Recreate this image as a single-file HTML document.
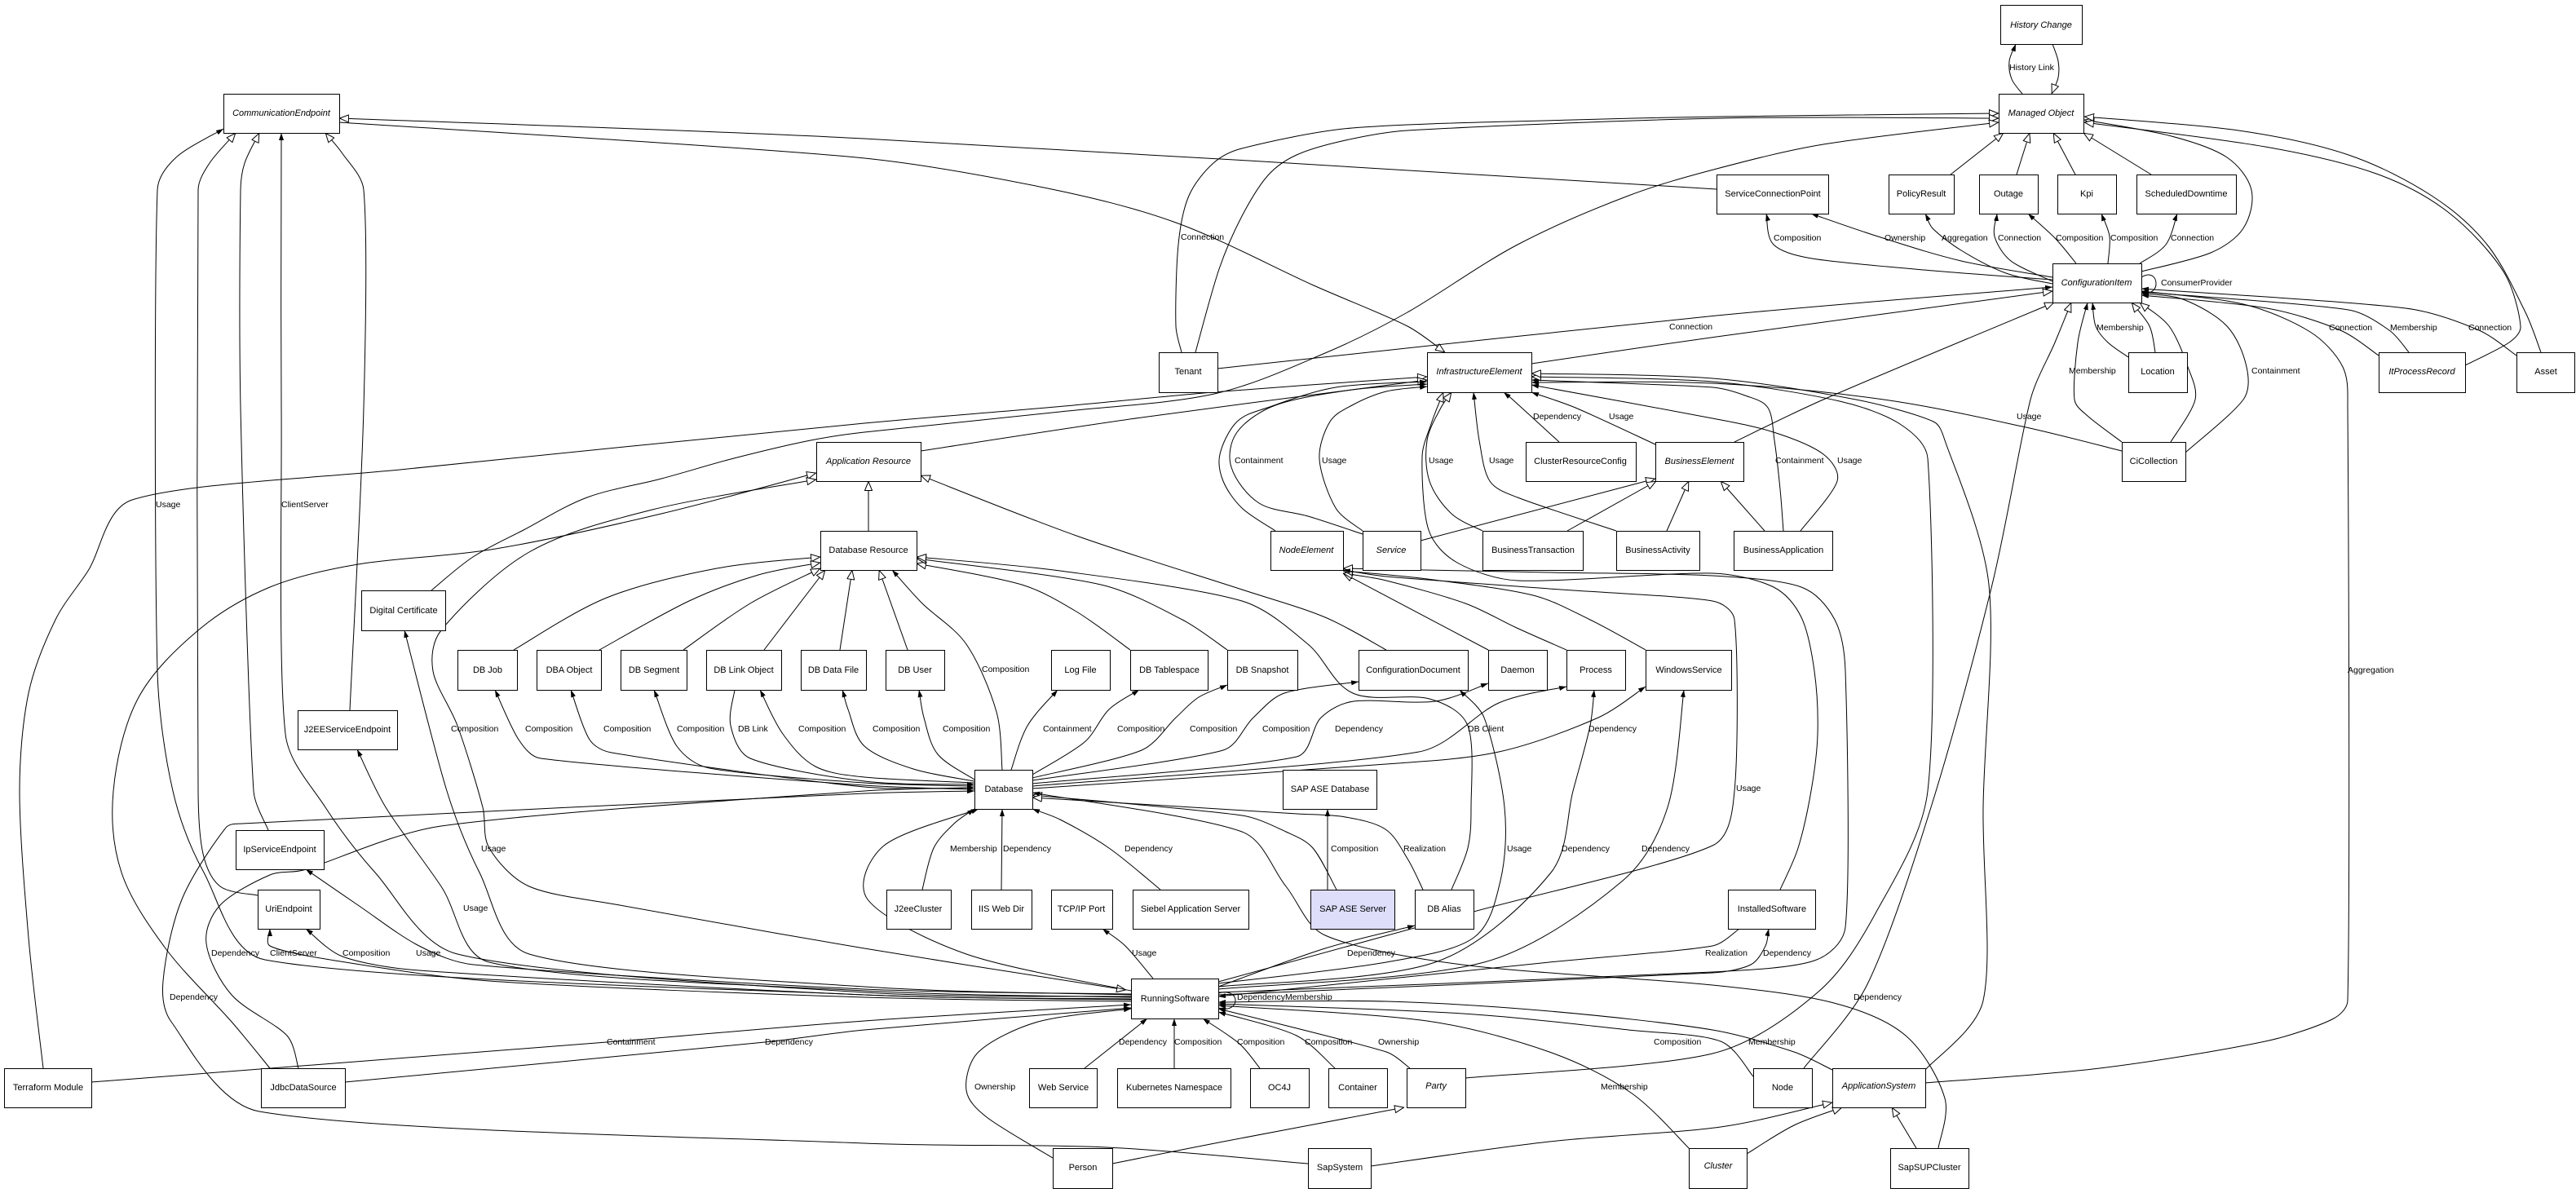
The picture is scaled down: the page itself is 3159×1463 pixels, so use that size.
<!DOCTYPE html>
<html><head><meta charset="utf-8"><style>
html,body{margin:0;padding:0;background:#fff;}
svg{display:block;}
.n{font-family:"Liberation Sans",Arial,sans-serif;font-size:11px;fill:#000;}
.i{font-style:italic;}
.l{font-family:"Liberation Sans",Arial,sans-serif;font-size:10.5px;fill:#000;}
.e path{fill:none;stroke:#000;stroke-width:1;stroke-linejoin:round;}
</style></head><body>
<svg width="3159" height="1463" viewBox="0 0 3159 1463" xmlns="http://www.w3.org/2000/svg">
<defs>
<marker id="h" viewBox="0 0 12 10" refX="12" refY="5" markerWidth="12" markerHeight="10" orient="auto" markerUnits="userSpaceOnUse"><path d="M0.5,0.5 L11.5,5 L0.5,9.5 Z" fill="#fff" stroke="#000" stroke-width="1"/></marker>
<marker id="hs" viewBox="0 0 12 10" refX="12" refY="5" markerWidth="12" markerHeight="10" orient="auto-start-reverse" markerUnits="userSpaceOnUse"><path d="M0.5,0.5 L11.5,5 L0.5,9.5 Z" fill="#fff" stroke="#000" stroke-width="1"/></marker>
<marker id="f" viewBox="0 0 9 6" refX="9" refY="3" markerWidth="9" markerHeight="6" orient="auto" markerUnits="userSpaceOnUse"><path d="M0,0 L9,3 L0,6 Z" fill="#000"/></marker>
</defs>
<rect width="3159" height="1463" fill="#fff"/>
<g class="e">
<path d="M2480,115 L2467,97 L2464,75 L2472,54" marker-end="url(#f)"/>
<path d="M2517,54 L2524,75 L2524,95 L2516,115" marker-end="url(#h)"/>
<path d="M2392,214 L2457,163" marker-end="url(#h)"/>
<path d="M2473,214 L2489,163" marker-end="url(#h)"/>
<path d="M2545,214 L2518,163" marker-end="url(#h)"/>
<path d="M2638,214 L2555,163" marker-end="url(#h)"/>
<path d="M2626,333 L2711,310 L2751,280 L2761,233 L2731,193 L2663,167 L2556,147" marker-end="url(#h)"/>
<path d="M3023,448 L3077,420 L3091,400 L3070,333 L3002,260 L2914,213 L2778,180 L2556,150" marker-end="url(#h)"/>
<path d="M3116,432 L3097,383 L3050,300 L2982,240 L2880,190 L2745,160 L2556,143" marker-end="url(#h)"/>
<path d="M1449,432 L1442,400 L1445,300 L1458,240 L1488,200 L1523,182 L1658,157 L1929,147 L2110,143 L2451,139" marker-end="url(#h)"/>
<path d="M1466,432 L1495,330 L1523,265 L1555,215 L1590,190 L1650,172 L1726,160 L2110,145 L2451,145" marker-end="url(#h)"/>
<path d="M2105,232 L1060,170 L416,145" marker-end="url(#h)"/>
<path d="M416,150 L1050,193 L1280,230 L1442,273 L1611,350 L1726,400 L1772,432" marker-end="url(#h)"/>
<path d="M529,724 L580,683 L642,650 L720,610 L811,587 L900,562 L994,540 L1060,530 L1300,505 L1489,483 L1625,433 L1726,383 L1861,300 L1997,240 L2105,207 L2236,177 L2451,150" marker-end="url(#h)"/>
<path d="M53,1310 L35,1150 L24,970 L35,850 L68,760 L108,700 L162,613 L500,575 L1060,519 L1283,500 L1500,480 L1750,462" marker-end="url(#h)"/>
<path d="M1129,553 L1400,512 L1750,466" marker-end="url(#h)"/>
<path d="M1564,651 L1523,623 L1500,590 L1496,557 L1517,517 L1554,500 L1638,475 L1750,468" marker-end="url(#f)"/>
<path d="M1671,655 L1604,633 L1544,617 L1510,573 L1517,530 L1564,497 L1658,478 L1750,471" marker-end="url(#f)"/>
<path d="M1671,651 L1638,623 L1618,563 L1631,517 L1658,497 L1700,480 L1750,474" marker-end="url(#f)"/>
<path d="M2183,1091 L2205,1040 L2221,970 L2229,900 L2225,823 L2209,757 L2175,720 L2100,703 L1861,712 L1787,690 L1752,650 L1744,560 L1755,520 L1770,481" marker-end="url(#h)"/>
<path d="M1818,651 L1780,630 L1753,590 L1750,540 L1767,500 L1780,481" marker-end="url(#h)"/>
<path d="M1982,651 L1861,610 L1827,590 L1814,540 L1807,481" marker-end="url(#f)"/>
<path d="M1912,542 L1855,490 L1844,481" marker-end="url(#f)"/>
<path d="M2030,545 L1932,500 L1878,481" marker-end="url(#f)"/>
<path d="M1878,446 L2105,413 L2517,357" marker-end="url(#h)"/>
<path d="M1493,452 L2105,387 L2517,352" marker-end="url(#f)"/>
<path d="M2127,542 L2236,490 L2519,371" marker-end="url(#h)"/>
<path d="M2208,651 L2253,590 L2236,557 L2175,530 L2100,513 L1878,472" marker-end="url(#f)"/>
<path d="M2187,651 L2183,600 L2176,540 L2168,500 L2140,485 L2100,475 L1878,466" marker-end="url(#f)"/>
<path d="M1797,1322 L2100,1292 L2229,1217 L2300,1120 L2364,970 L2364,562 L2330,520 L2256,492 L2100,468 L1878,462" marker-end="url(#h)"/>
<path d="M2361,1312 L2432,1227 L2432,990 L2439,717 L2385,540 L2371,517 L2276,490 L2100,464 L1878,458" marker-end="url(#h)"/>
<path d="M2602,553 L2480,523 L2310,490 L2100,470 L1878,469" marker-end="url(#f)"/>
<path d="M2212,1310 L2290,1207 L2368,990 L2443,717 L2490,490 L2520,420 L2540,371" marker-end="url(#h)"/>
<path d="M2602,542 L2560,510 L2544,490 L2548,420 L2560,371" marker-end="url(#f)"/>
<path d="M2610,438 L2585,420 L2570,400 L2566,371" marker-end="url(#f)"/>
<path d="M2643,432 L2636,400 L2614,371" marker-end="url(#h)"/>
<path d="M2662,542 L2692,490 L2683,450 L2660,400 L2624,371" marker-end="url(#h)"/>
<path d="M2680,555 L2751,490 L2755,450 L2731,400 L2677,367 L2626,360" marker-end="url(#f)"/>
<path d="M2361,1328 L2575,1310 L2778,1277 L2860,1250 L2879,1227 L2879,500 L2873,450 L2833,407 L2751,373 L2626,357" marker-end="url(#f)"/>
<path d="M2917,436 L2870,405 L2780,378 L2626,362" marker-end="url(#f)"/>
<path d="M2954,432 L2930,405 L2880,380 L2626,358" marker-end="url(#f)"/>
<path d="M3086,436 L3040,405 L2950,378 L2626,354" marker-end="url(#f)"/>
<path d="M2626,340 C2648,326 2652,366 2626,358" marker-end="url(#f)"/>
<path d="M2517,343 L2371,332 L2222,317 L2175,300 L2166,262" marker-end="url(#f)"/>
<path d="M2517,340 L2405,320 L2303,290 L2221,262" marker-end="url(#f)"/>
<path d="M2517,348 L2460,335 L2405,307 L2370,280 L2361,262" marker-end="url(#f)"/>
<path d="M2517,345 L2466,320 L2446,290 L2449,262" marker-end="url(#f)"/>
<path d="M2546,323 L2521,293 L2487,262" marker-end="url(#f)"/>
<path d="M2585,323 L2587,290 L2577,262" marker-end="url(#f)"/>
<path d="M2624,323 L2656,300 L2670,262" marker-end="url(#f)"/>
<path d="M1065,651 L1065,590" marker-end="url(#h)"/>
<path d="M1700,797 L1625,757 L1523,723 L1320,657 L1129,583" marker-end="url(#h)"/>
<path d="M331,1310 L284,1253 L203,1163 L149,1070 L139,970 L169,857 L243,773 L331,720 L439,692 L608,673 L811,630 L1001,580" marker-end="url(#h)"/>
<path d="M1001,588 L800,625 L649,677 L541,773 L531,823 L561,890 L592,990 L600,1040 L649,1087 L760,1110 L1060,1163 L1381,1214" marker-start="url(#hs)" marker-end="url(#h)"/>
<path d="M630,797 L744,733 L879,697 L1006,683" marker-end="url(#h)"/>
<path d="M735,797 L845,737 L930,705 L1006,690" marker-end="url(#h)"/>
<path d="M838,797 L920,740 L1006,697" marker-end="url(#h)"/>
<path d="M937,797 L1012,699" marker-end="url(#h)"/>
<path d="M1030,797 L1045,699" marker-end="url(#h)"/>
<path d="M1113,797 L1078,699" marker-end="url(#h)"/>
<path d="M1229,944 L1222,873 L1185,790 L1131,740 L1094,699" marker-end="url(#f)"/>
<path d="M1386,797 L1320,750 L1253,717 L1124,691" marker-end="url(#h)"/>
<path d="M1505,797 L1450,760 L1350,717 L1124,685" marker-end="url(#h)"/>
<path d="M1780,1091 L1800,1040 L1804,990 L1800,890 L1753,857 L1659,850 L1604,790 L1523,737 L1300,700 L1124,683" marker-end="url(#h)"/>
<path d="M1195,968 L1060,963 L663,930 L636,907 L607,846" marker-end="url(#f)"/>
<path d="M1195,966 L1060,965 L750,923 L723,907 L700,846" marker-end="url(#f)"/>
<path d="M1195,964 L1060,960 L870,942 L830,915 L802,846" marker-end="url(#f)"/>
<path d="M901,846 L896,890 L920,930 L1060,958 L1195,962" marker-end="url(#f)"/>
<path d="M1195,960 L1060,953 L1000,940 L960,900 L932,846" marker-end="url(#f)"/>
<path d="M1195,958 L1120,943 L1060,915 L1040,870 L1033,846" marker-end="url(#f)"/>
<path d="M1195,956 L1150,925 L1133,880 L1127,846" marker-end="url(#f)"/>
<path d="M1240,944 L1260,890 L1297,846" marker-end="url(#f)"/>
<path d="M1266,950 L1330,910 L1360,870 L1397,846" marker-end="url(#f)"/>
<path d="M1266,954 L1400,920 L1442,880 L1470,855 L1505,840" marker-end="url(#f)"/>
<path d="M1266,957 L1500,920 L1537,880 L1575,850 L1666,836" marker-end="url(#f)"/>
<path d="M1266,961 L1590,928 L1620,880 L1660,860 L1760,860 L1825,838" marker-end="url(#f)"/>
<path d="M1266,964 L1740,922 L1838,862 L1921,842" marker-end="url(#f)"/>
<path d="M1266,967 L1700,937 L1838,922 L1960,880 L2018,842" marker-end="url(#f)"/>
<path d="M1494,1206 L1700,1180 L1807,1150 L1840,1080 L1845,990 L1820,880 L1790,846" marker-end="url(#f)"/>
<path d="M1494,1210 L1760,1180 L1902,1070 L1929,970 L1950,890 L1955,846" marker-end="url(#f)"/>
<path d="M1494,1213 L1820,1180 L1990,1080 L2045,990 L2065,846" marker-end="url(#f)"/>
<path d="M1825,797 L1647,703" marker-end="url(#h)"/>
<path d="M1921,797 L1860,770 L1797,740 L1700,712 L1647,703" marker-end="url(#h)"/>
<path d="M2018,797 L1950,760 L1880,730 L1750,710 L1647,700" marker-end="url(#h)"/>
<path d="M1494,1217 L2100,1192 L2225,1178 L2263,1137 L2263,823 L2250,760 L2209,720 L2100,706 L1900,702 L1647,697" marker-end="url(#h)"/>
<path d="M1494,1204 L1800,1120 L2100,1037 L2127,970 L2127,760 L2100,737 L1900,722 L1700,707 L1647,699" marker-end="url(#f)"/>
<path d="M1742,663 L2030,587" marker-end="url(#h)"/>
<path d="M1922,651 L2031,590" marker-end="url(#h)"/>
<path d="M2044,651 L2071,590" marker-end="url(#h)"/>
<path d="M2164,651 L2110,590" marker-end="url(#h)"/>
<path d="M1131,1091 L1145,1040 L1170,1010 L1195,992" marker-end="url(#f)"/>
<path d="M1228,1091 L1229,992" marker-end="url(#f)"/>
<path d="M1423,1091 L1360,1040 L1300,1005 L1266,992" marker-end="url(#f)"/>
<path d="M1639,1091 L1610,1040 L1577,1020 L1523,1000 L1266,975" marker-end="url(#h)"/>
<path d="M1628,1091 L1628,992" marker-end="url(#f)"/>
<path d="M1745,1091 L1726,1053 L1699,1017 L1650,1002 L1591,998 L1266,978" marker-end="url(#h)"/>
<path d="M1387,1215 L1185,1170 L1064,1103 L1084,1037 L1200,992" marker-end="url(#f)"/>
<path d="M2377,1408 L2385,1347 L2337,1270 L2249,1230 L2100,1208 L1793,1183 L1625,1147 L1577,1087 L1523,1020 L1266,972" marker-end="url(#f)"/>
<path d="M1604,1427 L1357,1407 L1060,1402 L318,1363 L210,1253 L200,1203 L223,1103 L277,1015 L297,1010 L1060,973 L1195,970" marker-end="url(#f)"/>
<path d="M366,1310 L352,1270 L284,1220 L253,1157 L270,1110 L331,1073 L372,1067 L541,1013 L1060,970 L1195,966" marker-end="url(#f)"/>
<path d="M1414,1200 L1380,1160 L1352,1139" marker-end="url(#f)"/>
<path d="M1494,1210 L1625,1163 L1735,1135" marker-end="url(#f)"/>
<path d="M1330,1310 L1407,1249" marker-end="url(#f)"/>
<path d="M1440,1310 L1440,1249" marker-end="url(#f)"/>
<path d="M1545,1310 L1520,1280 L1475,1249" marker-end="url(#f)"/>
<path d="M1637,1310 L1590,1270 L1494,1241" marker-end="url(#f)"/>
<path d="M1729,1310 L1700,1290 L1494,1237" marker-end="url(#f)"/>
<path d="M1291,1420 L1210,1370 L1185,1337 L1200,1290 L1273,1253 L1387,1237" marker-end="url(#f)"/>
<path d="M1364,1427 L1500,1400 L1722,1358" marker-end="url(#h)"/>
<path d="M2073,1410 L2000,1340 L1900,1290 L1750,1252 L1494,1233" marker-end="url(#f)"/>
<path d="M1681,1430 L1900,1400 L2110,1382 L2247,1352" marker-end="url(#h)"/>
<path d="M2142,1415 L2200,1380 L2259,1358" marker-end="url(#h)"/>
<path d="M2350,1408 L2320,1358" marker-end="url(#h)"/>
<path d="M2150,1320 L2110,1277 L1997,1263 L1794,1243 L1494,1231" marker-end="url(#f)"/>
<path d="M2247,1312 L2200,1290 L2100,1263 L1900,1240 L1700,1228 L1494,1229" marker-end="url(#f)"/>
<path d="M2133,1139 L2100,1160 L1900,1180 L1494,1222" marker-end="url(#f)"/>
<path d="M1494,1220 L2100,1193 L2147,1183 L2165,1160 L2169,1139" marker-end="url(#f)"/>
<path d="M1494,1218 C1522,1210 1522,1244 1494,1236" marker-end="url(#f)"/>
<path d="M316,1098 L270,1087 L249,1047 L243,970 L243,233 L257,200 L289,163" marker-end="url(#h)"/>
<path d="M329,1018 L311,970 L295,500 L295,233 L300,200 L318,163" marker-end="url(#h)"/>
<path d="M1387,1222 L1060,1217 L561,1170 L460,1070 L399,990 L350,900 L345,500 L345,163" marker-end="url(#f)"/>
<path d="M429,871 L446,500 L446,233 L419,187 L399,163" marker-end="url(#h)"/>
<path d="M1387,1225 L1060,1220 L325,1177 L250,1070 L212,970 L193,823 L193,233 L216,193 L274,158" marker-end="url(#f)"/>
<path d="M1387,1219 L1060,1213 L581,1183 L514,1160 L439,1110 L375,1066" marker-end="url(#f)"/>
<path d="M1387,1228 L1060,1223 L600,1203 L405,1177 L331,1160 L331,1139" marker-end="url(#f)"/>
<path d="M1387,1226 L1060,1220 L514,1190 L420,1173 L375,1139" marker-end="url(#f)"/>
<path d="M1387,1223 L1060,1215 L600,1180 L541,1087 L473,990 L438,919" marker-end="url(#f)"/>
<path d="M1387,1220 L1060,1210 L649,1170 L588,1070 L548,970 L496,773" marker-end="url(#f)"/>
<path d="M112,1327 L744,1278 L1060,1252 L1387,1232" marker-end="url(#f)"/>
<path d="M423,1327 L938,1278 L1060,1263 L1387,1236" marker-end="url(#f)"/>
</g>
<g>
<text class="l" x="2464" y="83" dominant-baseline="central">History Link</text>
<text class="l" x="1448" y="291" dominant-baseline="central">Connection</text>
<text class="l" x="2175" y="292" dominant-baseline="central">Composition</text>
<text class="l" x="2311" y="292" dominant-baseline="central">Ownership</text>
<text class="l" x="2381" y="292" dominant-baseline="central">Aggregation</text>
<text class="l" x="2450" y="292" dominant-baseline="central">Connection</text>
<text class="l" x="2521" y="292" dominant-baseline="central">Composition</text>
<text class="l" x="2588" y="292" dominant-baseline="central">Composition</text>
<text class="l" x="2662" y="292" dominant-baseline="central">Connection</text>
<text class="l" x="2650" y="347" dominant-baseline="central">ConsumerProvider</text>
<text class="l" x="2047" y="401" dominant-baseline="central">Connection</text>
<text class="l" x="2571" y="402" dominant-baseline="central">Membership</text>
<text class="l" x="2856" y="402" dominant-baseline="central">Connection</text>
<text class="l" x="2931" y="402" dominant-baseline="central">Membership</text>
<text class="l" x="3027" y="402" dominant-baseline="central">Connection</text>
<text class="l" x="2537" y="455" dominant-baseline="central">Membership</text>
<text class="l" x="2761" y="455" dominant-baseline="central">Containment</text>
<text class="l" x="2473" y="511" dominant-baseline="central">Usage</text>
<text class="l" x="1880" y="511" dominant-baseline="central">Dependency</text>
<text class="l" x="1973" y="511" dominant-baseline="central">Usage</text>
<text class="l" x="1514" y="565" dominant-baseline="central">Containment</text>
<text class="l" x="1621" y="565" dominant-baseline="central">Usage</text>
<text class="l" x="1752" y="565" dominant-baseline="central">Usage</text>
<text class="l" x="1826" y="565" dominant-baseline="central">Usage</text>
<text class="l" x="2177" y="565" dominant-baseline="central">Containment</text>
<text class="l" x="2253" y="565" dominant-baseline="central">Usage</text>
<text class="l" x="191" y="619" dominant-baseline="central">Usage</text>
<text class="l" x="345" y="619" dominant-baseline="central">ClientServer</text>
<text class="l" x="1204" y="821" dominant-baseline="central">Composition</text>
<text class="l" x="2879" y="822" dominant-baseline="central">Aggregation</text>
<text class="l" x="553" y="894" dominant-baseline="central">Composition</text>
<text class="l" x="644" y="894" dominant-baseline="central">Composition</text>
<text class="l" x="740" y="894" dominant-baseline="central">Composition</text>
<text class="l" x="830" y="894" dominant-baseline="central">Composition</text>
<text class="l" x="905" y="894" dominant-baseline="central">DB Link</text>
<text class="l" x="979" y="894" dominant-baseline="central">Composition</text>
<text class="l" x="1070" y="894" dominant-baseline="central">Composition</text>
<text class="l" x="1156" y="894" dominant-baseline="central">Composition</text>
<text class="l" x="1279" y="894" dominant-baseline="central">Containment</text>
<text class="l" x="1370" y="894" dominant-baseline="central">Composition</text>
<text class="l" x="1459" y="894" dominant-baseline="central">Composition</text>
<text class="l" x="1548" y="894" dominant-baseline="central">Composition</text>
<text class="l" x="1637" y="894" dominant-baseline="central">Dependency</text>
<text class="l" x="1800" y="894" dominant-baseline="central">DB Client</text>
<text class="l" x="1948" y="894" dominant-baseline="central">Dependency</text>
<text class="l" x="2129" y="967" dominant-baseline="central">Usage</text>
<text class="l" x="590" y="1041" dominant-baseline="central">Usage</text>
<text class="l" x="1165" y="1041" dominant-baseline="central">Membership</text>
<text class="l" x="1230" y="1041" dominant-baseline="central">Dependency</text>
<text class="l" x="1379" y="1041" dominant-baseline="central">Dependency</text>
<text class="l" x="1632" y="1041" dominant-baseline="central">Composition</text>
<text class="l" x="1721" y="1041" dominant-baseline="central">Realization</text>
<text class="l" x="1848" y="1041" dominant-baseline="central">Usage</text>
<text class="l" x="1915" y="1041" dominant-baseline="central">Dependency</text>
<text class="l" x="2013" y="1041" dominant-baseline="central">Dependency</text>
<text class="l" x="568" y="1114" dominant-baseline="central">Usage</text>
<text class="l" x="259" y="1169" dominant-baseline="central">Dependency</text>
<text class="l" x="331" y="1169" dominant-baseline="central">ClientServer</text>
<text class="l" x="420" y="1169" dominant-baseline="central">Composition</text>
<text class="l" x="510" y="1169" dominant-baseline="central">Usage</text>
<text class="l" x="1388" y="1169" dominant-baseline="central">Usage</text>
<text class="l" x="1652" y="1169" dominant-baseline="central">Dependency</text>
<text class="l" x="2091" y="1169" dominant-baseline="central">Realization</text>
<text class="l" x="2162" y="1169" dominant-baseline="central">Dependency</text>
<text class="l" x="208" y="1223" dominant-baseline="central">Dependency</text>
<text class="l" x="1517" y="1223" dominant-baseline="central">DependencyMembership</text>
<text class="l" x="2273" y="1223" dominant-baseline="central">Dependency</text>
<text class="l" x="744" y="1278" dominant-baseline="central">Containment</text>
<text class="l" x="938" y="1278" dominant-baseline="central">Dependency</text>
<text class="l" x="1372" y="1278" dominant-baseline="central">Dependency</text>
<text class="l" x="1440" y="1278" dominant-baseline="central">Composition</text>
<text class="l" x="1517" y="1278" dominant-baseline="central">Composition</text>
<text class="l" x="1600" y="1278" dominant-baseline="central">Composition</text>
<text class="l" x="1690" y="1278" dominant-baseline="central">Ownership</text>
<text class="l" x="2028" y="1278" dominant-baseline="central">Composition</text>
<text class="l" x="2144" y="1278" dominant-baseline="central">Membership</text>
<text class="l" x="1195" y="1333" dominant-baseline="central">Ownership</text>
<text class="l" x="1963" y="1333" dominant-baseline="central">Membership</text>
</g>
<g id="nodes">
<rect x="2454" y="7" width="100" height="48" fill="#666"/><rect x="2453.5" y="6.5" width="100" height="48" fill="#fff" stroke="#000"/><text class="n i" x="2503" y="31" text-anchor="middle" dominant-baseline="central">History Change</text>
<rect x="2452" y="116" width="104" height="48" fill="#666"/><rect x="2451.5" y="115.5" width="104" height="48" fill="#fff" stroke="#000"/><text class="n i" x="2503" y="139" text-anchor="middle" dominant-baseline="central">Managed Object</text>
<rect x="275" y="116" width="142" height="48" fill="#666"/><rect x="274.5" y="115.5" width="142" height="48" fill="#fff" stroke="#000"/><text class="n i" x="345" y="139" text-anchor="middle" dominant-baseline="central">CommunicationEndpoint</text>
<rect x="2106" y="215" width="137" height="48" fill="#666"/><rect x="2105.5" y="214.5" width="137" height="48" fill="#fff" stroke="#000"/><text class="n" x="2174" y="238" text-anchor="middle" dominant-baseline="central">ServiceConnectionPoint</text>
<rect x="2317" y="215" width="80" height="48" fill="#666"/><rect x="2316.5" y="214.5" width="80" height="48" fill="#fff" stroke="#000"/><text class="n" x="2356" y="238" text-anchor="middle" dominant-baseline="central">PolicyResult</text>
<rect x="2428" y="215" width="72" height="48" fill="#666"/><rect x="2427.5" y="214.5" width="72" height="48" fill="#fff" stroke="#000"/><text class="n" x="2463" y="238" text-anchor="middle" dominant-baseline="central">Outage</text>
<rect x="2524" y="215" width="72" height="48" fill="#666"/><rect x="2523.5" y="214.5" width="72" height="48" fill="#fff" stroke="#000"/><text class="n" x="2559" y="238" text-anchor="middle" dominant-baseline="central">Kpi</text>
<rect x="2621" y="215" width="122" height="48" fill="#666"/><rect x="2620.5" y="214.5" width="122" height="48" fill="#fff" stroke="#000"/><text class="n" x="2681" y="238" text-anchor="middle" dominant-baseline="central">ScheduledDowntime</text>
<rect x="2518" y="324" width="109" height="48" fill="#666"/><rect x="2517.5" y="323.5" width="109" height="48" fill="#fff" stroke="#000"/><text class="n i" x="2571" y="347" text-anchor="middle" dominant-baseline="central">ConfigurationItem</text>
<rect x="1422" y="433" width="72" height="49" fill="#666"/><rect x="1421.5" y="432.5" width="72" height="49" fill="#fff" stroke="#000"/><text class="n" x="1457" y="456" text-anchor="middle" dominant-baseline="central">Tenant</text>
<rect x="1751" y="433" width="128" height="49" fill="#666"/><rect x="1750.5" y="432.5" width="128" height="49" fill="#fff" stroke="#000"/><text class="n i" x="1814" y="456" text-anchor="middle" dominant-baseline="central">InfrastructureElement</text>
<rect x="2611" y="433" width="72" height="49" fill="#666"/><rect x="2610.5" y="432.5" width="72" height="49" fill="#fff" stroke="#000"/><text class="n" x="2646" y="456" text-anchor="middle" dominant-baseline="central">Location</text>
<rect x="2918" y="433" width="106" height="49" fill="#666"/><rect x="2917.5" y="432.5" width="106" height="49" fill="#fff" stroke="#000"/><text class="n i" x="2970" y="456" text-anchor="middle" dominant-baseline="central">ItProcessRecord</text>
<rect x="3087" y="433" width="71" height="49" fill="#666"/><rect x="3086.5" y="432.5" width="71" height="49" fill="#fff" stroke="#000"/><text class="n" x="3122" y="456" text-anchor="middle" dominant-baseline="central">Asset</text>
<rect x="1002" y="543" width="128" height="48" fill="#666"/><rect x="1001.5" y="542.5" width="128" height="48" fill="#fff" stroke="#000"/><text class="n i" x="1065" y="566" text-anchor="middle" dominant-baseline="central">Application Resource</text>
<rect x="1872" y="543" width="135" height="48" fill="#666"/><rect x="1871.5" y="542.5" width="135" height="48" fill="#fff" stroke="#000"/><text class="n" x="1938" y="566" text-anchor="middle" dominant-baseline="central">ClusterResourceConfig</text>
<rect x="2031" y="543" width="108" height="48" fill="#666"/><rect x="2030.5" y="542.5" width="108" height="48" fill="#fff" stroke="#000"/><text class="n i" x="2084" y="566" text-anchor="middle" dominant-baseline="central">BusinessElement</text>
<rect x="2603" y="543" width="78" height="48" fill="#666"/><rect x="2602.5" y="542.5" width="78" height="48" fill="#fff" stroke="#000"/><text class="n" x="2641" y="566" text-anchor="middle" dominant-baseline="central">CiCollection</text>
<rect x="1007" y="652" width="118" height="48" fill="#666"/><rect x="1006.5" y="651.5" width="118" height="48" fill="#fff" stroke="#000"/><text class="n" x="1065" y="675" text-anchor="middle" dominant-baseline="central">Database Resource</text>
<rect x="1559" y="652" width="89" height="48" fill="#666"/><rect x="1558.5" y="651.5" width="89" height="48" fill="#fff" stroke="#000"/><text class="n i" x="1602" y="675" text-anchor="middle" dominant-baseline="central">NodeElement</text>
<rect x="1672" y="652" width="71" height="48" fill="#666"/><rect x="1671.5" y="651.5" width="71" height="48" fill="#fff" stroke="#000"/><text class="n i" x="1706" y="675" text-anchor="middle" dominant-baseline="central">Service</text>
<rect x="1819" y="652" width="123" height="48" fill="#666"/><rect x="1818.5" y="651.5" width="123" height="48" fill="#fff" stroke="#000"/><text class="n" x="1880" y="675" text-anchor="middle" dominant-baseline="central">BusinessTransaction</text>
<rect x="1983" y="652" width="102" height="48" fill="#666"/><rect x="1982.5" y="651.5" width="102" height="48" fill="#fff" stroke="#000"/><text class="n" x="2033" y="675" text-anchor="middle" dominant-baseline="central">BusinessActivity</text>
<rect x="2127" y="652" width="121" height="48" fill="#666"/><rect x="2126.5" y="651.5" width="121" height="48" fill="#fff" stroke="#000"/><text class="n" x="2187" y="675" text-anchor="middle" dominant-baseline="central">BusinessApplication</text>
<rect x="444" y="725" width="103" height="49" fill="#666"/><rect x="443.5" y="724.5" width="103" height="49" fill="#fff" stroke="#000"/><text class="n" x="495" y="749" text-anchor="middle" dominant-baseline="central">Digital Certificate</text>
<rect x="562" y="798" width="73" height="49" fill="#666"/><rect x="561.5" y="797.5" width="73" height="49" fill="#fff" stroke="#000"/><text class="n" x="598" y="822" text-anchor="middle" dominant-baseline="central">DB Job</text>
<rect x="659" y="798" width="79" height="49" fill="#666"/><rect x="658.5" y="797.5" width="79" height="49" fill="#fff" stroke="#000"/><text class="n" x="698" y="822" text-anchor="middle" dominant-baseline="central">DBA Object</text>
<rect x="762" y="798" width="81" height="49" fill="#666"/><rect x="761.5" y="797.5" width="81" height="49" fill="#fff" stroke="#000"/><text class="n" x="802" y="822" text-anchor="middle" dominant-baseline="central">DB Segment</text>
<rect x="867" y="798" width="92" height="49" fill="#666"/><rect x="866.5" y="797.5" width="92" height="49" fill="#fff" stroke="#000"/><text class="n" x="912" y="822" text-anchor="middle" dominant-baseline="central">DB Link Object</text>
<rect x="983" y="798" width="80" height="49" fill="#666"/><rect x="982.5" y="797.5" width="80" height="49" fill="#fff" stroke="#000"/><text class="n" x="1022" y="822" text-anchor="middle" dominant-baseline="central">DB Data File</text>
<rect x="1087" y="798" width="72" height="49" fill="#666"/><rect x="1086.5" y="797.5" width="72" height="49" fill="#fff" stroke="#000"/><text class="n" x="1122" y="822" text-anchor="middle" dominant-baseline="central">DB User</text>
<rect x="1290" y="798" width="72" height="49" fill="#666"/><rect x="1289.5" y="797.5" width="72" height="49" fill="#fff" stroke="#000"/><text class="n" x="1325" y="822" text-anchor="middle" dominant-baseline="central">Log File</text>
<rect x="1387" y="798" width="95" height="49" fill="#666"/><rect x="1386.5" y="797.5" width="95" height="49" fill="#fff" stroke="#000"/><text class="n" x="1434" y="822" text-anchor="middle" dominant-baseline="central">DB Tablespace</text>
<rect x="1506" y="798" width="86" height="49" fill="#666"/><rect x="1505.5" y="797.5" width="86" height="49" fill="#fff" stroke="#000"/><text class="n" x="1548" y="822" text-anchor="middle" dominant-baseline="central">DB Snapshot</text>
<rect x="1667" y="798" width="134" height="49" fill="#666"/><rect x="1666.5" y="797.5" width="134" height="49" fill="#fff" stroke="#000"/><text class="n" x="1733" y="822" text-anchor="middle" dominant-baseline="central">ConfigurationDocument</text>
<rect x="1826" y="798" width="72" height="49" fill="#666"/><rect x="1825.5" y="797.5" width="72" height="49" fill="#fff" stroke="#000"/><text class="n" x="1861" y="822" text-anchor="middle" dominant-baseline="central">Daemon</text>
<rect x="1922" y="798" width="72" height="49" fill="#666"/><rect x="1921.5" y="797.5" width="72" height="49" fill="#fff" stroke="#000"/><text class="n" x="1957" y="822" text-anchor="middle" dominant-baseline="central">Process</text>
<rect x="2019" y="798" width="105" height="49" fill="#666"/><rect x="2018.5" y="797.5" width="105" height="49" fill="#fff" stroke="#000"/><text class="n" x="2071" y="822" text-anchor="middle" dominant-baseline="central">WindowsService</text>
<rect x="366" y="872" width="122" height="48" fill="#666"/><rect x="365.5" y="871.5" width="122" height="48" fill="#fff" stroke="#000"/><text class="n" x="426" y="895" text-anchor="middle" dominant-baseline="central">J2EEServiceEndpoint</text>
<rect x="1196" y="945" width="71" height="48" fill="#666"/><rect x="1195.5" y="944.5" width="71" height="48" fill="#fff" stroke="#000"/><text class="n" x="1231" y="968" text-anchor="middle" dominant-baseline="central">Database</text>
<rect x="1574" y="945" width="115" height="48" fill="#666"/><rect x="1573.5" y="944.5" width="115" height="48" fill="#fff" stroke="#000"/><text class="n" x="1631" y="968" text-anchor="middle" dominant-baseline="central">SAP ASE Database</text>
<rect x="290" y="1019" width="108" height="48" fill="#666"/><rect x="289.5" y="1018.5" width="108" height="48" fill="#fff" stroke="#000"/><text class="n" x="343" y="1042" text-anchor="middle" dominant-baseline="central">IpServiceEndpoint</text>
<rect x="317" y="1092" width="76" height="48" fill="#666"/><rect x="316.5" y="1091.5" width="76" height="48" fill="#fff" stroke="#000"/><text class="n" x="354" y="1115" text-anchor="middle" dominant-baseline="central">UriEndpoint</text>
<rect x="1088" y="1092" width="79" height="48" fill="#666"/><rect x="1087.5" y="1091.5" width="79" height="48" fill="#fff" stroke="#000"/><text class="n" x="1126" y="1115" text-anchor="middle" dominant-baseline="central">J2eeCluster</text>
<rect x="1192" y="1092" width="74" height="48" fill="#666"/><rect x="1191.5" y="1091.5" width="74" height="48" fill="#fff" stroke="#000"/><text class="n" x="1228" y="1115" text-anchor="middle" dominant-baseline="central">IIS Web Dir</text>
<rect x="1290" y="1092" width="75" height="48" fill="#666"/><rect x="1289.5" y="1091.5" width="75" height="48" fill="#fff" stroke="#000"/><text class="n" x="1326" y="1115" text-anchor="middle" dominant-baseline="central">TCP/IP Port</text>
<rect x="1390" y="1092" width="142" height="48" fill="#666"/><rect x="1389.5" y="1091.5" width="142" height="48" fill="#fff" stroke="#000"/><text class="n" x="1460" y="1115" text-anchor="middle" dominant-baseline="central">Siebel Application Server</text>
<rect x="1608" y="1092" width="103" height="48" fill="#666"/><rect x="1607.5" y="1091.5" width="103" height="48" fill="#dedefb" stroke="#000"/><text class="n" x="1659" y="1115" text-anchor="middle" dominant-baseline="central">SAP ASE Server</text>
<rect x="1736" y="1092" width="72" height="48" fill="#666"/><rect x="1735.5" y="1091.5" width="72" height="48" fill="#fff" stroke="#000"/><text class="n" x="1771" y="1115" text-anchor="middle" dominant-baseline="central">DB Alias</text>
<rect x="2120" y="1092" width="107" height="48" fill="#666"/><rect x="2119.5" y="1091.5" width="107" height="48" fill="#fff" stroke="#000"/><text class="n" x="2173" y="1115" text-anchor="middle" dominant-baseline="central">InstalledSoftware</text>
<rect x="1388" y="1201" width="107" height="49" fill="#666"/><rect x="1387.5" y="1200.5" width="107" height="49" fill="#fff" stroke="#000"/><text class="n" x="1441" y="1225" text-anchor="middle" dominant-baseline="central">RunningSoftware</text>
<rect x="6" y="1311" width="107" height="48" fill="#666"/><rect x="5.5" y="1310.5" width="107" height="48" fill="#fff" stroke="#000"/><text class="n" x="59" y="1334" text-anchor="middle" dominant-baseline="central">Terraform Module</text>
<rect x="321" y="1311" width="103" height="48" fill="#666"/><rect x="320.5" y="1310.5" width="103" height="48" fill="#fff" stroke="#000"/><text class="n" x="372" y="1334" text-anchor="middle" dominant-baseline="central">JdbcDataSource</text>
<rect x="1263" y="1311" width="83" height="48" fill="#666"/><rect x="1262.5" y="1310.5" width="83" height="48" fill="#fff" stroke="#000"/><text class="n" x="1304" y="1334" text-anchor="middle" dominant-baseline="central">Web Service</text>
<rect x="1371" y="1311" width="139" height="48" fill="#666"/><rect x="1370.5" y="1310.5" width="139" height="48" fill="#fff" stroke="#000"/><text class="n" x="1440" y="1334" text-anchor="middle" dominant-baseline="central">Kubernetes Namespace</text>
<rect x="1534" y="1311" width="72" height="48" fill="#666"/><rect x="1533.5" y="1310.5" width="72" height="48" fill="#fff" stroke="#000"/><text class="n" x="1569" y="1334" text-anchor="middle" dominant-baseline="central">OC4J</text>
<rect x="1630" y="1311" width="72" height="48" fill="#666"/><rect x="1629.5" y="1310.5" width="72" height="48" fill="#fff" stroke="#000"/><text class="n" x="1665" y="1334" text-anchor="middle" dominant-baseline="central">Container</text>
<rect x="1726" y="1311" width="72" height="48" fill="#666"/><rect x="1725.5" y="1310.5" width="72" height="48" fill="#fff" stroke="#000"/><text class="n i" x="1761" y="1332" text-anchor="middle" dominant-baseline="central">Party</text>
<rect x="2151" y="1311" width="72" height="48" fill="#666"/><rect x="2150.5" y="1310.5" width="72" height="48" fill="#fff" stroke="#000"/><text class="n" x="2186" y="1334" text-anchor="middle" dominant-baseline="central">Node</text>
<rect x="2248" y="1311" width="114" height="48" fill="#666"/><rect x="2247.5" y="1310.5" width="114" height="48" fill="#fff" stroke="#000"/><text class="n i" x="2304" y="1332" text-anchor="middle" dominant-baseline="central">ApplicationSystem</text>
<rect x="1292" y="1409" width="73" height="49" fill="#666"/><rect x="1291.5" y="1408.5" width="73" height="49" fill="#fff" stroke="#000"/><text class="n" x="1328" y="1432" text-anchor="middle" dominant-baseline="central">Person</text>
<rect x="1605" y="1409" width="77" height="49" fill="#666"/><rect x="1604.5" y="1408.5" width="77" height="49" fill="#fff" stroke="#000"/><text class="n" x="1643" y="1432" text-anchor="middle" dominant-baseline="central">SapSystem</text>
<rect x="2072" y="1409" width="71" height="49" fill="#666"/><rect x="2071.5" y="1408.5" width="71" height="49" fill="#fff" stroke="#000"/><text class="n i" x="2107" y="1430" text-anchor="middle" dominant-baseline="central">Cluster</text>
<rect x="2319" y="1409" width="96" height="49" fill="#666"/><rect x="2318.5" y="1408.5" width="96" height="49" fill="#fff" stroke="#000"/><text class="n" x="2366" y="1432" text-anchor="middle" dominant-baseline="central">SapSUPCluster</text>
</g>
</svg>
<script>
(function(){
  function clamp(tx,ty,maxLen){
    var m=Math.sqrt(tx*tx+ty*ty);
    if(m>maxLen&&m>0){var s=maxLen/m;return [tx*s,ty*s];}
    return [tx,ty];
  }
  var paths=document.querySelectorAll('.e path');
  for(var k=0;k<paths.length;k++){
    var p=paths[k];var d=p.getAttribute('d');
    if(/C/.test(d))continue;
    var nums=d.match(/-?\d+(\.\d+)?/g);
    if(!nums||nums.length<6)continue;
    var pts=[];
    for(var i=0;i+1<nums.length;i+=2)pts.push([+nums[i],+nums[i+1]]);
    if(pts.length<3)continue;
    var s='M'+pts[0][0]+','+pts[0][1];
    for(var j=0;j<pts.length-1;j++){
      var p0=pts[j-1]||pts[j],p1=pts[j],p2=pts[j+1],p3=pts[j+2]||pts[j+1];
      var L=Math.sqrt((p2[0]-p1[0])*(p2[0]-p1[0])+(p2[1]-p1[1])*(p2[1]-p1[1]));
      var t1=clamp((p2[0]-p0[0])/6,(p2[1]-p0[1])/6,L/3);
      var t2=clamp((p3[0]-p1[0])/6,(p3[1]-p1[1])/6,L/3);
      var c1x=p1[0]+t1[0],c1y=p1[1]+t1[1];
      var c2x=p2[0]-t2[0],c2y=p2[1]-t2[1];
      s+=' C'+c1x.toFixed(1)+','+c1y.toFixed(1)+' '+c2x.toFixed(1)+','+c2y.toFixed(1)+' '+p2[0]+','+p2[1];
    }
    p.setAttribute('d',s);
  }
})();
</script>
</body></html>
